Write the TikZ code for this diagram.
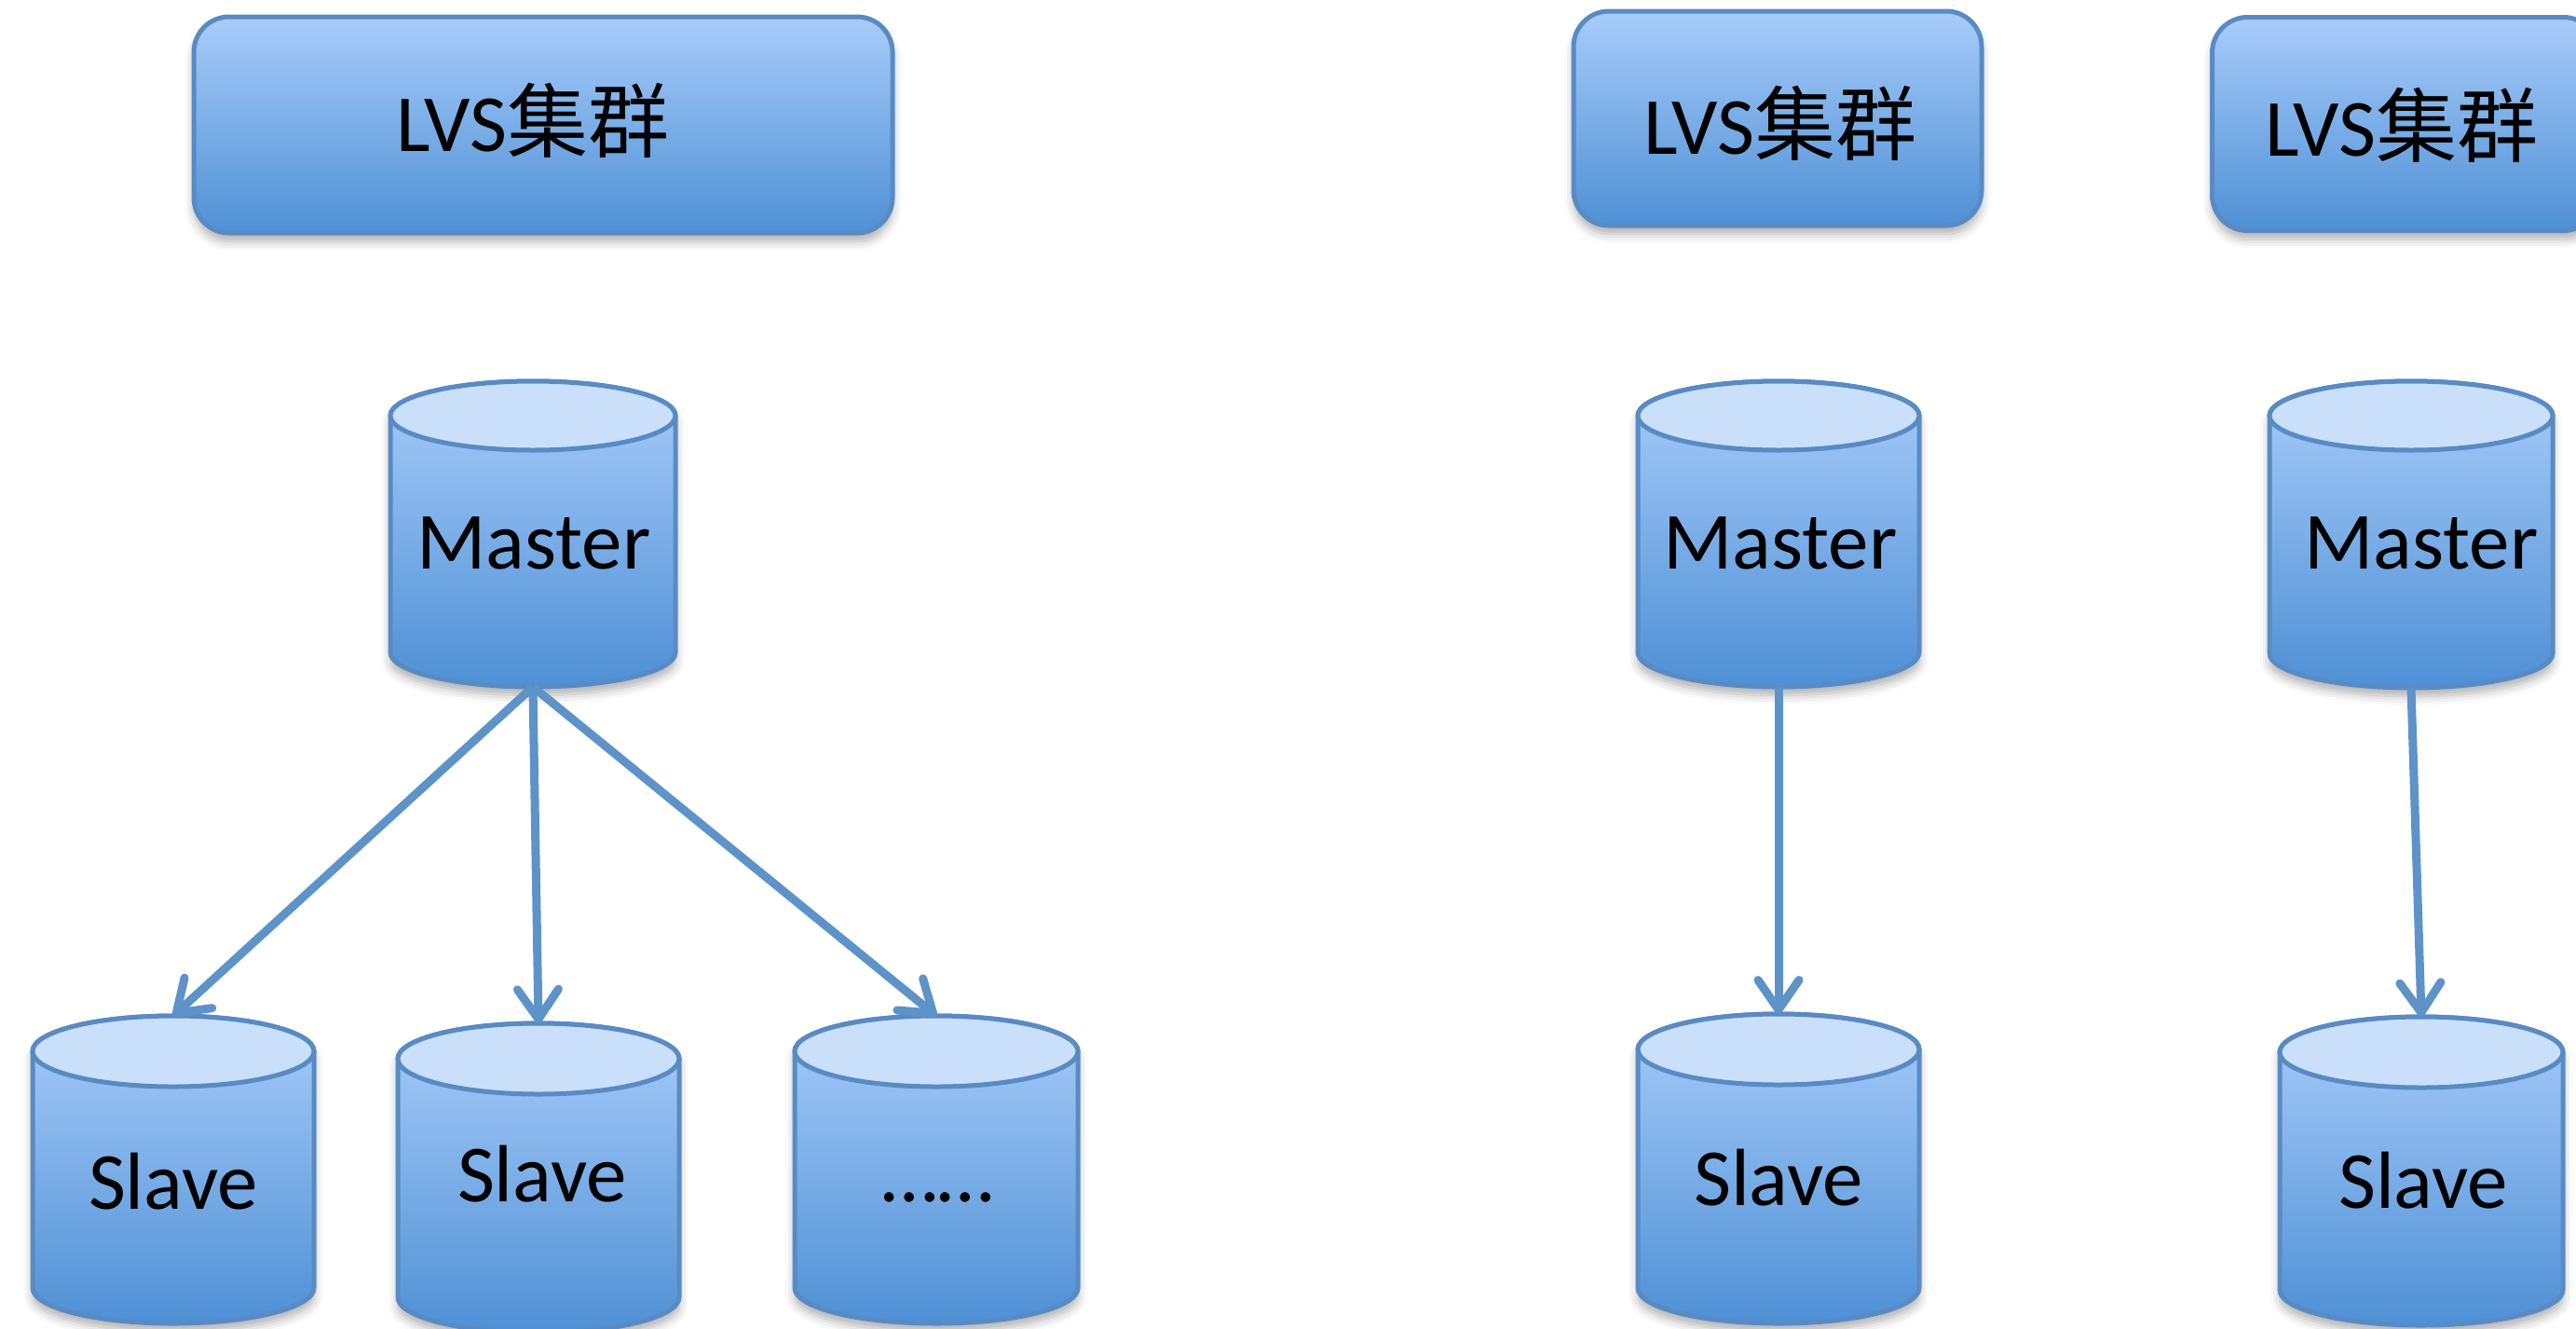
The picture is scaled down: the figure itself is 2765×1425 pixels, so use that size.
\documentclass[tikz,border=0pt]{standalone}
\usepackage{fontspec}
\setmainfont{Carlito}
\newfontfamily\cjkfont{Noto Sans CJK SC}
\usetikzlibrary{arrows.meta,shadows.blur}

\definecolor{edgeblue}{RGB}{88,139,196}
\definecolor{linkblue}{RGB}{94,147,201}
\definecolor{filltop}{RGB}{168,204,250}
\definecolor{fillbot}{RGB}{79,144,213}
\definecolor{lidblue}{RGB}{201,223,250}

\tikzset{
  softshadow/.style={blur shadow={shadow xshift=0pt, shadow yshift=-9pt,
      shadow blur radius=10pt, shadow opacity=32}},
  clusterbox/.style={draw=edgeblue, line width=5pt, rounded corners=38pt,
      top color=filltop, bottom color=fillbot, softshadow, inner sep=0pt},
  cylside/.style={draw=edgeblue, line width=5pt, top color=filltop,
      bottom color=fillbot, softshadow},
  cyllid/.style={draw=edgeblue, line width=5pt, fill=lidblue},
  bigtext/.style={font=\fontsize{87}{100}\selectfont, inner sep=0pt, anchor=base},
  link/.style={draw=linkblue, line width=9pt, line join=miter,
      -{Straight Barb[length=32pt,width=44pt,round]}},
}

% database cylinder: #1 name, #2 centre x, #3 half width, #4 top y, #5 bottom y, #6 lid half height
\newcommand\dbcylinder[6]{%
  \path[cylside] ({#2-#3},{#4+#6}) -- ({#2-#3},{#5-#6})
      arc[start angle=180, end angle=360, x radius=#3pt, y radius=#6pt]
      -- ({#2+#3},{#4+#6})
      arc[start angle=0, end angle=180, x radius=#3pt, y radius=#6pt] -- cycle;
  \path[cyllid] (#2,{#4+#6}) ellipse[x radius=#3pt, y radius=#6pt];
  \coordinate (#1-top) at (#2,#4);
  \coordinate (#1-bot) at (#2,#5);
}

\begin{document}
\begin{tikzpicture}[x=1pt,y=-1pt]
\useasboundingbox (0,0) rectangle (2765,1425);

% ---- cluster boxes ----
\node[clusterbox, minimum width=750pt, minimum height=232pt] (lvsA) at (583,134) {};
\node[bigtext] (lvsA-t) at (572,162) {LVS{\cjkfont 集群}};

\node[clusterbox, minimum width=438pt, minimum height=230pt] (lvsB) at (1908,127) {};
\node[bigtext] (lvsB-t) at (1911,165) {LVS{\cjkfont 集群}};

\node[clusterbox, minimum width=415pt, minimum height=229pt] (lvsC) at (2582,133) {};
\node[bigtext] (lvsC-t) at (2578,167) {LVS{\cjkfont 集群}};

% ---- masters ----
\dbcylinder{mA}{572}{153}{409}{737}{37}
\node[bigtext] (mA-t) at (573,610) {Master};

\dbcylinder{mB}{1909}{151}{409}{737}{37}
\node[bigtext] (mB-t) at (1911,610) {Master};

\dbcylinder{mC}{2588}{152}{409}{738}{37}
\node[bigtext] (mC-t) at (2599,610) {Master};

% ---- slaves ----
\dbcylinder{sA}{186}{151}{1090}{1420}{38}
\node[bigtext] (sA-t) at (186,1297) {Slave};

\dbcylinder{sB}{578}{151}{1098}{1430}{38}
\node[bigtext] (sB-t) at (582,1289) {Slave};

\dbcylinder{sC}{1005}{152}{1090}{1420}{38}
\node[bigtext] (sC-t) at (1007,1289) {……};

\dbcylinder{sD}{1909}{151}{1088}{1420}{38}
\node[bigtext] (sD-t) at (1909,1293) {Slave};

\dbcylinder{sE}{2599}{152}{1091}{1422}{38}
\node[bigtext] (sE-t) at (2601,1296) {Slave};

% ---- replication links ----
\draw[link] (mA-bot) -- (sA-top);
\draw[link] (mA-bot) -- (sB-top);
\draw[link] (mA-bot) -- (sC-top);
\draw[link] (mB-bot) -- (sD-top);
\draw[link] (mC-bot) -- (sE-top);
\end{tikzpicture}
\end{document}
